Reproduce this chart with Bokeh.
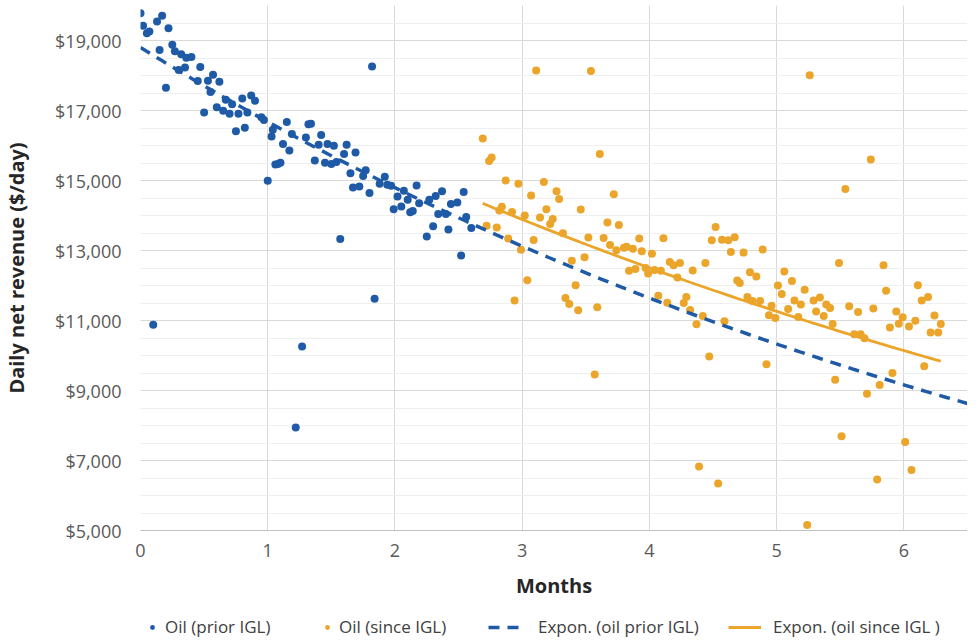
import numpy as np
from bokeh.plotting import figure
from bokeh.layouts import column
from bokeh.models import (FixedTicker, NumeralTickFormatter, Legend, LegendItem, Range1d)
from bokeh.embed import file_html
from bokeh.resources import INLINE

# ---- data ----
prior_months = [0.00, 0.02, 0.05, 0.07, 0.13, 0.17, 0.22, 0.15, 0.25, 0.27, 0.32, 0.36, 0.40, 0.30,
                0.35, 0.20, 0.47, 0.45, 0.53, 0.57, 0.62, 0.55, 0.67, 0.72, 0.80, 0.87, 0.90, 0.60,
                0.65, 0.70, 0.77, 0.84, 0.50, 0.75, 0.82, 0.95, 0.97, 1.04, 1.03, 1.06, 1.00, 0.10,
                1.15, 1.19, 1.12, 1.17, 1.08, 1.10, 1.32, 1.34, 1.30, 1.42, 1.40, 1.47, 1.52, 1.62,
                1.37, 1.45, 1.50, 1.54, 1.60, 1.69, 1.65, 1.77, 1.75, 1.67, 1.72, 1.80, 1.57, 1.88,
                1.92, 1.94, 1.97, 2.02, 2.07, 2.10, 1.99, 2.05, 2.12, 2.14, 2.17, 2.19, 2.27, 2.32,
                2.37, 2.34, 2.40, 2.44, 2.49, 2.54, 2.30, 2.25, 2.42, 2.56, 2.60, 2.52, 1.82, 1.84,
                1.27, 1.22]
prior_revenue = [19780, 19420, 19210, 19260, 19540, 19710, 19350, 18730, 18880, 18690, 18610, 18510,
                 18530, 18160, 18230, 17650, 18240, 17840, 17850, 18020, 17820, 17530, 17310, 17180,
                 17340, 17430, 17280, 17090, 16990, 16910, 16910, 16940, 16940, 16410, 16510, 16810,
                 16730, 16450, 16260, 15460, 14990, 10880, 16670, 16330, 16040, 15860, 15470, 15510,
                 16610, 16620, 16230, 16300, 16020, 16040, 15990, 16020, 15570, 15510, 15470, 15530,
                 15760, 15800, 15210, 15290, 15130, 14800, 14830, 14640, 13330, 14910, 15110, 14880,
                 14850, 14540, 14710, 14450, 14180, 14260, 14090, 14130, 14860, 14350, 14450, 14560,
                 14690, 14040, 14040, 14330, 14370, 14670, 13690, 13400, 13600, 13960, 13640, 12860,
                 18260, 11620, 10260, 7940]

since_months = [2.69, 2.74, 2.76, 3.11, 3.54, 3.61, 2.87, 2.97, 3.17, 3.07, 3.27, 3.29, 3.72, 2.84,
                2.82, 2.92, 3.02, 3.19, 3.14, 3.24, 3.22, 3.46, 3.67, 3.76, 2.72, 2.80, 2.89, 3.09,
                3.32, 3.52, 3.64, 3.69, 3.74, 3.80, 3.82, 3.87, 3.92, 3.94, 4.02, 4.11, 2.99, 3.39,
                3.49, 3.84, 3.89, 3.97, 3.99, 4.04, 4.09, 3.04, 3.42, 4.07, 3.34, 3.37, 3.44, 3.59,
                2.94, 3.57, 4.16, 4.19, 4.24, 4.22, 4.34, 4.44, 4.14, 4.27, 4.29, 4.32, 4.42, 4.37,
                4.47, 4.52, 4.49, 4.57, 4.62, 4.67, 4.64, 4.74, 4.89, 4.69, 4.71, 4.79, 4.84, 4.77,
                4.81, 4.87, 4.96, 4.94, 4.99, 4.59, 4.92, 5.01, 5.06, 5.12, 5.04, 5.22, 5.14, 5.19,
                5.09, 5.17, 5.29, 5.34, 5.31, 5.37, 5.39, 5.42, 5.44, 5.49, 5.46, 5.51, 4.39, 4.54,
                5.74, 5.54, 5.84, 5.86, 6.11, 5.57, 5.64, 5.76, 5.61, 5.66, 5.69, 5.94, 5.89, 5.99,
                5.96, 6.04, 6.09, 6.14, 6.19, 6.24, 6.29, 6.21, 6.27, 5.91, 5.81, 5.71, 6.16, 6.01,
                6.06, 5.79, 5.24, 5.26]
since_revenue = [16200, 15560, 15660, 18140, 18130, 15760, 15000, 14910, 14960, 14570, 14690, 14470,
                 14610, 14250, 14140, 14100, 14000, 14180, 13940, 13900, 13760, 14170, 13800, 13730,
                 13710, 13660, 13340, 13300, 13490, 13370, 13360, 13160, 13010, 13080, 13110, 13050,
                 13340, 12980, 12910, 13350, 13020, 12710, 12810, 12420, 12470, 12500, 12340, 12440,
                 12420, 12150, 12010, 11710, 11640, 11470, 11290, 11380, 11570, 9460, 12670, 12580,
                 12640, 12230, 12430, 12640, 11510, 11500, 11670, 11300, 11130, 10890, 9970, 13670,
                 13290, 13310, 13290, 13380, 12960, 12940, 13030, 12140, 12070, 12380, 12260, 11670,
                 11560, 11560, 11420, 11150, 11070, 10980, 9750, 12000, 12400, 12130, 11760, 11880,
                 11570, 11460, 11330, 11100, 11570, 11660, 11260, 11130, 11460, 11360, 10900, 12640,
                 9310, 7690, 6830, 6340, 15600, 14760, 12580, 11850, 12010, 11410, 11240, 11340,
                 10610, 10610, 10490, 11260, 10800, 11090, 10910, 10830, 10990, 11570, 11670, 11140,
                 10900, 10660, 10660, 9500, 9160, 8910, 9690, 7530, 6730, 6460, 5160, 18010]

# exponential trendlines y = a * exp(k * months)
prior_trend_a, prior_trend_k = 18800.0, -0.1198
since_trend_a, since_trend_k = 19017.0, -0.1048
prior_trend_range = [0.0, 6.5]   # forecast forward to the end of the axis

x_ticks = [0, 1, 2, 3, 4, 5, 6]
y_ticks = [5000, 7000, 9000, 11000, 13000, 15000, 17000, 19000]
y_minor = list(range(5000, 20001, 500))

series_labels = ["Oil (prior IGL)", "Oil (since IGL)", "Expon. (oil prior IGL)", "Expon. (oil since IGL )"]

BLUE = "#1f5aa6"
ORANGE = "#eba52a"
FONT = "Open Sans"

X_END = 6.5
tx1 = np.linspace(prior_trend_range[0], prior_trend_range[1], 80)
ty1 = prior_trend_a * np.exp(prior_trend_k * tx1)
tx2 = np.linspace(min(since_months), max(since_months), 80)
ty2 = since_trend_a * np.exp(since_trend_k * tx2)

p = figure(width=967, height=608, output_backend="svg", toolbar_location=None,
           x_range=Range1d(0, X_END), y_range=Range1d(5000, 20000),
           min_border_left=134, min_border_top=5, min_border_right=0, min_border_bottom=78)
p.outline_line_color = None
p.background_fill_color = "white"
p.border_fill_color = "white"

# grids
p.xgrid.ticker = FixedTicker(ticks=x_ticks)
p.xgrid.grid_line_color = "#d9d9d9"
p.xgrid.grid_line_width = 1
p.ygrid.ticker = FixedTicker(ticks=y_ticks, minor_ticks=y_minor)
p.ygrid.grid_line_color = "#d9d9d9"
p.ygrid.minor_grid_line_color = "#efefef"

# axes
p.xaxis.ticker = FixedTicker(ticks=x_ticks)
p.yaxis.ticker = FixedTicker(ticks=y_ticks)
p.yaxis.formatter = NumeralTickFormatter(format="$0,0")
for ax in (p.xaxis[0], p.yaxis[0]):
    ax.major_tick_line_color = None
    ax.minor_tick_line_color = None
    ax.major_label_text_font = FONT
    ax.major_label_text_font_size = "18px"
    ax.major_label_text_color = "#595959"
    ax.axis_label_text_font = FONT
    ax.axis_label_text_font_style = "bold"
    ax.axis_label_text_font_size = "20px"
    ax.axis_label_text_color = "#262626"
p.xaxis.axis_line_color = "#bfbfbf"
p.yaxis.axis_line_color = None
p.xaxis.axis_label = "Months"
p.yaxis.axis_label = "Daily net revenue ($/day)"
p.xaxis.major_label_standoff = 7
p.xaxis.axis_label_standoff = 12
p.yaxis.major_label_standoff = 13
p.yaxis.axis_label_standoff = 22

# marks
p.scatter(prior_months, prior_revenue, size=8, color=BLUE, line_color=None)
p.scatter(since_months, since_revenue, size=8, color=ORANGE, line_color=None)
p.line(tx1, ty1, line_color=BLUE, line_width=3.5, line_dash="11 8")
p.line(tx2, ty2, line_color=ORANGE, line_width=2.8)

# legend strip (separate small figure under the chart); keys are invisible NaN proxies
lp = figure(width=967, height=30, output_backend="svg", toolbar_location=None,
            x_range=Range1d(0, 1), y_range=Range1d(0, 1),
            x_axis_location=None, y_axis_location=None,
            min_border_left=0, min_border_right=0, min_border_top=0, min_border_bottom=0)
lp.outline_line_color = None
lp.xgrid.visible = False
lp.ygrid.visible = False
nan = [float("nan")]
k1 = lp.scatter(nan, nan, size=8, color=BLUE, line_color=None)
k2 = lp.scatter(nan, nan, size=8, color=ORANGE, line_color=None)
k3 = lp.line(nan, nan, line_color=BLUE, line_width=3.5, line_dash="11 8")
k4 = lp.line(nan, nan, line_color=ORANGE, line_width=2.8)

legend_specs = [  # (key renderer, x offset from frame left, glyph width, label standoff)
    (k1, 6, 12, 7),
    (k2, 181, 12, 6),
    (k3, 348, 37, 13),
    (k4, 588, 33, 12),
]
for (rend, xo, gw, so), lab in zip(legend_specs, series_labels):
    lg = Legend(items=[LegendItem(label=lab, renderers=[rend])],
                location=(xo, 0), orientation="horizontal",
                label_text_font=FONT, label_text_font_size="17px", label_text_color="#404040",
                glyph_width=gw, glyph_height=14, label_standoff=so, spacing=0,
                padding=0, margin=0, border_line_color=None, background_fill_alpha=0)
    lp.add_layout(lg, "center")

layout = column(p, lp, spacing=0)
open("out.html", "w").write(file_html(layout, INLINE))
